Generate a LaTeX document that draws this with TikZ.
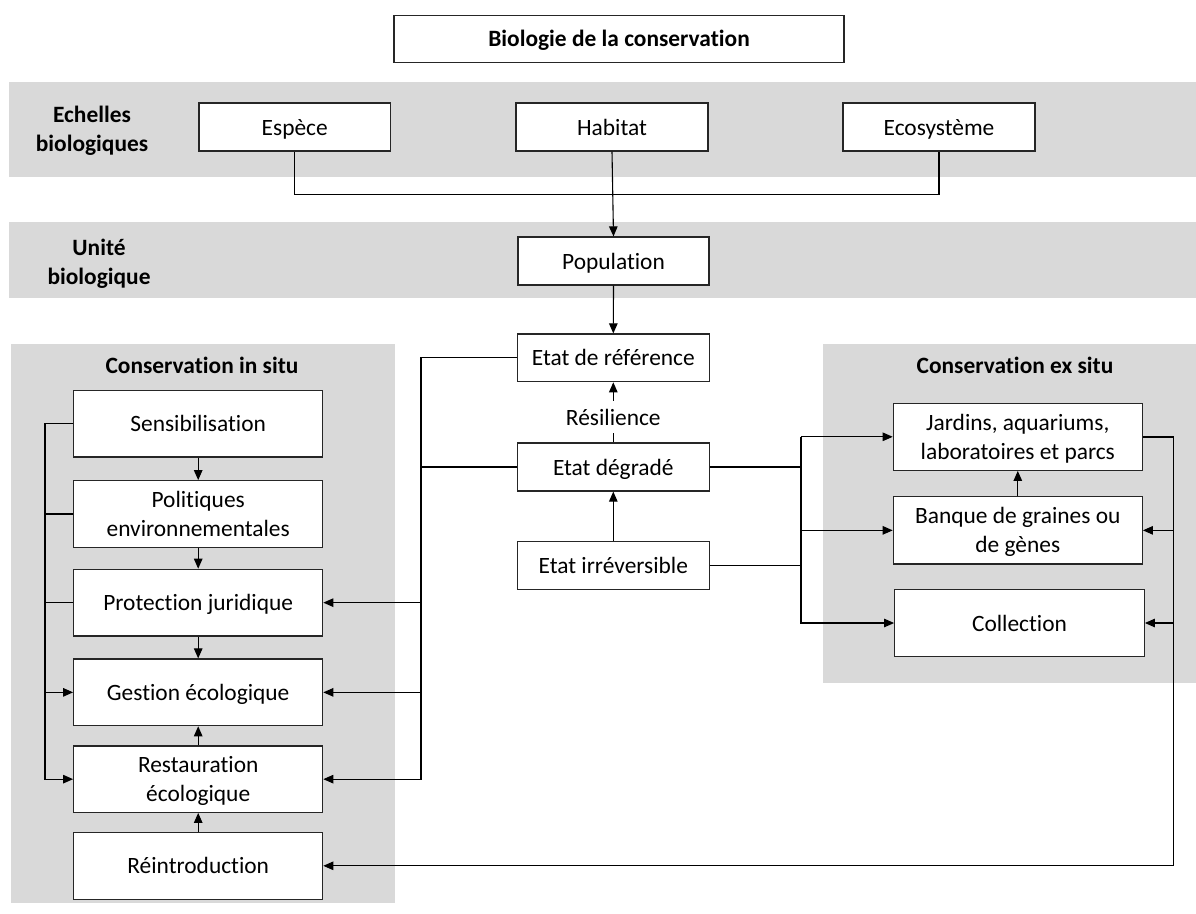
\documentclass[tikz,border=0pt]{standalone}
\usepackage{fontspec}
\setmainfont[RawFeature={-liga;-clig;-dlig;-calt}]{Carlito}
\usetikzlibrary{arrows.meta}
\definecolor{bandgray}{HTML}{D9D9D9}
\newcommand\st{\rule[-6pt]{0pt}{28pt}}
\tikzset{
  box/.style={draw=black!85, line width=1.2pt, fill=white, align=center, inner sep=0pt,
    font=\fontsize{23.4}{27.7}\selectfont},
  lbl/.style={align=center, inner sep=0pt, font=\fontsize{23.4}{27.7}\selectfont\bfseries},
  conn/.style={line width=1.1pt, draw=black},
  arr/.style={conn, -{Triangle[length=10pt,width=8.5pt]}}
}
\newcommand\bx[6]{\node[box, minimum width={(#4-#2)*1pt}, minimum height={(#5-#3)*1pt}] (#1) at ({(#2+#4)/2},{(#3+#5)/2}) {\st#6\st};}
\begin{document}
\begin{tikzpicture}[x=1pt,y=-1pt]
\useasboundingbox (0,0) rectangle (1196,913);
% gray bands
\fill[bandgray] (9,82) rectangle (1196,177);
\fill[bandgray] (9,222) rectangle (1196,298);
\fill[bandgray] (11,344) rectangle (395,903);
\fill[bandgray] (823,344) rectangle (1196,683);
% labels
\node[lbl] (lab1) at (92,129) {\st Echelles\\biologiques\st};
\node[lbl] (lab2) at (99,262) {\st Unité\\biologique\st};
\node[lbl] (lab3) at (202,365) {\st Conservation in situ\st};
\node[lbl] (lab4) at (1015,365) {\st Conservation ex situ\st};
% boxes
\bx{title}{394}{15.3}{844}{62.3}{\bfseries Biologie de la conservation}
\bx{esp}{199}{103}{390.5}{151}{Espèce}
\bx{hab}{516}{103}{708}{151}{Habitat}
\bx{eco}{843}{103}{1035}{151}{Ecosystème}
\bx{pop}{518}{237}{709}{285}{Population}
\bx{ref}{517.3}{334}{709.3}{381.7}{Etat de référence}
\bx{deg}{517.3}{443}{709.3}{491}{Etat dégradé}
\bx{irr}{517.3}{541.7}{709.3}{589.3}{Etat irréversible}
\bx{sens}{73.7}{390.7}{322.7}{457}{Sensibilisation}
\bx{pol}{73.7}{480.7}{322.7}{547.3}{Politiques\\environnementales}
\bx{prot}{73.7}{569.3}{322.7}{636}{Protection juridique}
\bx{gest}{73.7}{659}{322.7}{725.7}{Gestion écologique}
\bx{rest}{73.7}{746}{322.7}{812.3}{Restauration\\écologique}
\bx{reint}{73.7}{832.3}{322.7}{899.3}{Réintroduction}
\bx{jar}{893.3}{403.3}{1142.3}{470.3}{Jardins, aquariums,\\laboratoires et parcs}
\bx{ban}{893.3}{496.7}{1142.3}{564}{Banque de graines ou\\de gènes}
\bx{coll}{894.7}{589.3}{1144.3}{656.7}{Collection}
% bus coordinates
\coordinate (LB) at (421,0);
\coordinate (LL) at (45,0);
\coordinate (MB) at (801,0);
\coordinate (RB) at (1173.3,0);
% top connectors
\draw[conn] (esp.south) -- ++(0,43) -| (eco.south);
\draw[arr] (hab.south) -- (pop.north);
\draw[arr] (pop.south) -- (ref.north);
\draw[arr] (deg.north) -- node[pos=0.42, fill=white, inner sep=2pt, font=\fontsize{23.4}{27.7}\selectfont] (res) {\st Résilience\st} (ref.south);
\draw[arr] (irr.north) -- (deg.south);
% left bus from states
\draw[arr] (ref.west) -- (ref.west -| LB) |- (rest.east);
\draw[conn] (deg.west) -- (deg.west -| LB);
\draw[arr] (prot.east -| LB) -- (prot.east);
\draw[arr] (gest.east -| LB) -- (gest.east);
% in situ chain
\draw[arr] (sens.south) -- (pol.north);
\draw[arr] (pol.south) -- (prot.north);
\draw[arr] (prot.south) -- (gest.north);
\draw[arr] (rest.north) -- (gest.south);
\draw[arr] (reint.north) -- (rest.south);
% far left bus
\draw[arr] (sens.west) -- (sens.west -| LL) |- (rest.west);
\draw[conn] (pol.west) -- (pol.west -| LL);
\draw[conn] (prot.west) -- (prot.west -| LL);
\draw[arr] (gest.west -| LL) -- (gest.west);
% middle bus to ex situ
\draw[conn] (deg.east) -- (deg.east -| MB);
\draw[conn, line width=1.7pt] (irr.east) -- (irr.east -| MB);
\draw[arr] (jar.west -| MB) -- (jar.west);
\draw[arr] (jar.west -| MB) |- (coll.west);
\draw[arr] (ban.west -| MB) -- (ban.west);
\draw[arr] (ban.north) -- (jar.south);
% right bus
\draw[arr] (jar.east) -- (jar.east -| RB) |- (reint.east);
\draw[conn, line width=1.7pt] (jar.east) -- (jar.east -| RB);
\draw[arr] (ban.east -| RB) -- (ban.east);
\draw[arr] (coll.east -| RB) -- (coll.east);
\end{tikzpicture}
\end{document}
